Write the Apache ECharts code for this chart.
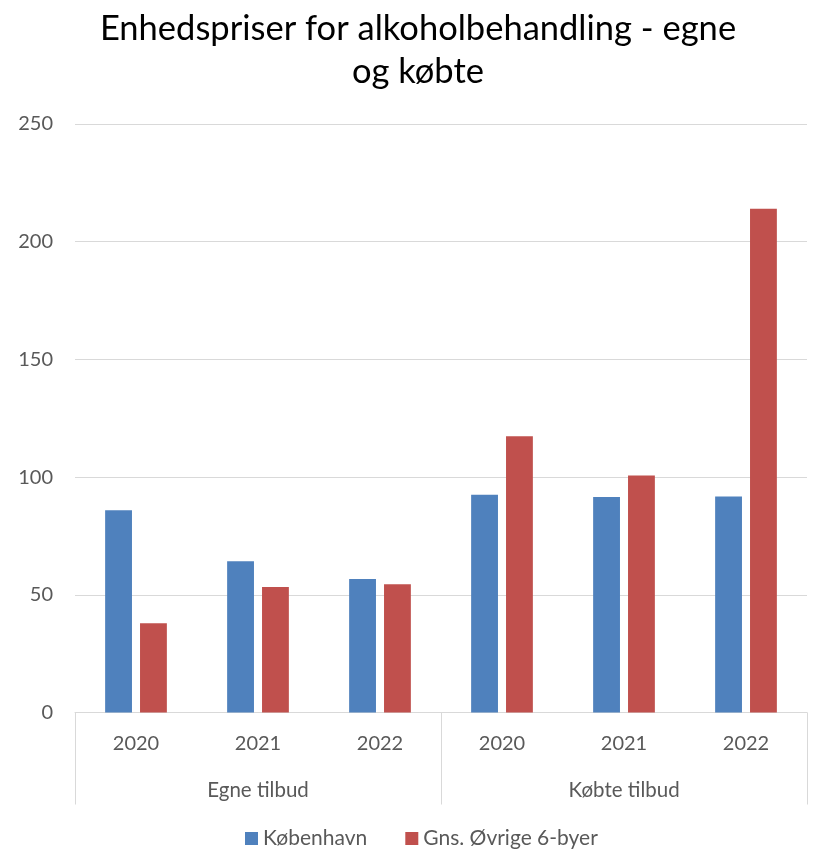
<!DOCTYPE html>
<html>
<head>
<meta charset="utf-8">
<script src="https://cdn.jsdelivr.net/npm/echarts@6/dist/echarts.min.js"></script>
<style>html,body{margin:0;padding:0;background:#fff}#c{width:813px;height:854px}</style>
</head>
<body>
<div id="c"></div>
<script>
const years = ['2020', '2021', '2022', '2020', '2021', '2022'];
const groups = ['Egne tilbud', 'Købte tilbud'];
const kobenhavn = [85.9, 64.2, 56.7, 92.5, 91.5, 91.8];
const ovrige = [37.9, 53.3, 54.5, 117.4, 100.7, 214.0];
const seriesNames = ['København', 'Gns. Øvrige 6-byer'];
const yTicks = { min: 0, max: 250, interval: 50 };

const FONT = 'Lato, "Open Sans", sans-serif';
const chart = echarts.init(document.getElementById('c'));
chart.setOption({
  animation: false,
  textStyle: { fontFamily: FONT },
  title: {
    text: 'Enhedspriser for alkoholbehandling - egne\nog købte',
    left: 413,
    top: 2,
    textAlign: 'center',
    textStyle: { fontFamily: FONT, fontSize: 34.5, fontWeight: 'normal', color: '#000', lineHeight: 43 }
  },
  legend: {
    bottom: 0,
    left: 240,
    itemWidth: 13,
    itemHeight: 13,
    itemGap: 38,
    icon: 'rect',
    textStyle: { fontFamily: FONT, fontSize: 21, color: '#595959' },
    data: seriesNames
  },
  grid: { left: 75, right: 6, top: 124, bottom: 141.5 },
  xAxis: [
    {
      type: 'category',
      data: years,
      position: 'bottom',
      axisLine: { show: false },
      axisTick: { show: false },
      axisLabel: { fontFamily: FONT, fontSize: 20, color: '#595959', margin: 21 }
    },
    {
      type: 'category',
      data: groups,
      position: 'bottom',
      axisLine: { show: true, lineStyle: { color: '#d9d9d9', width: 1 } },
      axisTick: { show: true, length: 92, lineStyle: { color: '#d9d9d9', width: 1 } },
      axisLabel: { fontFamily: FONT, fontSize: 20.5, color: '#595959', margin: 67 }
    }
  ],
  yAxis: {
    type: 'value',
    min: yTicks.min,
    max: yTicks.max,
    interval: yTicks.interval,
    axisLine: { show: false },
    axisTick: { show: false },
    axisLabel: { fontFamily: FONT, fontSize: 20, color: '#595959', margin: 22 },
    splitLine: { lineStyle: { color: '#d9d9d9', width: 1 } }
  },
  series: [
    {
      name: seriesNames[0],
      type: 'bar',
      xAxisIndex: 0,
      data: kobenhavn,
      barWidth: '22%',
      barGap: '30%',
      itemStyle: { color: '#4f81bd' }
    },
    {
      name: seriesNames[1],
      type: 'bar',
      xAxisIndex: 0,
      data: ovrige,
      barWidth: '22%',
      barGap: '30%',
      itemStyle: { color: '#c0504d' }
    }
  ]
});
</script>
</body>
</html>
